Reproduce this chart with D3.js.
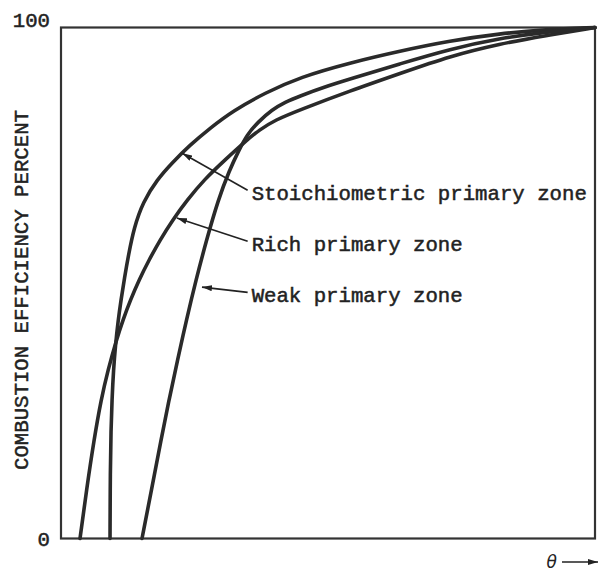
<!DOCTYPE html>
<html>
<head>
<meta charset="utf-8">
<script src="https://cdn.jsdelivr.net/npm/d3@7"></script>
<style>
    html, body { margin: 0; padding: 0; background: #fff; }
    svg { display: block; }
    .type { font-family: "Liberation Mono", "Courier New", monospace; fill: #222; stroke: #222; stroke-width: 0.5px; }
</style>
</head>
<body>
<svg id="chart" width="599" height="574"></svg>
<script>
(function () {
    'use strict';

    // theta (arbitrary units, 0-100) against combustion efficiency percent
    var stoichTheta = [9.18, 9.23, 9.36, 9.55, 9.83, 10.21, 10.67, 11.24, 11.89, 12.64, 13.67, 15.36, 17.98, 20.79, 24.16, 27.90, 32.21, 38.20, 44.76, 54.12, 63.48, 72.85, 82.21, 90.64, 100];
    var stoichEff = [0, 13.4, 21.2, 27.1, 33.0, 37.9, 42.4, 46.7, 51.0, 55.5, 60.8, 65.9, 70.2, 73.5, 77.0, 80.3, 83.7, 87.2, 90.3, 93.1, 95.4, 97.4, 98.8, 99.6, 100];

    var richTheta = [3.56, 4.78, 6.18, 7.49, 8.80, 10.39, 11.61, 13.01, 14.61, 16.48, 18.54, 20.88, 23.60, 26.78, 30.71, 34.83, 37.08, 40.07, 44.76, 54.12, 63.48, 72.85, 82.21, 90.64, 100];
    var richEff = [0, 9.5, 19.3, 27.1, 33.0, 38.9, 42.8, 46.7, 50.6, 54.5, 58.4, 62.3, 66.2, 70.2, 74.1, 78.0, 79.9, 81.9, 83.9, 87.6, 91.0, 94.4, 96.8, 98.4, 100];

    var weakTheta = [15.17, 16.95, 18.73, 20.22, 21.82, 23.50, 25.28, 27.25, 29.40, 31.55, 33.33, 34.83, 36.89, 39.51, 41.95, 44.76, 49.44, 54.12, 63.48, 72.85, 82.21, 90.64, 100];
    var weakEff = [0, 9.5, 19.3, 27.1, 34.9, 42.8, 50.6, 58.4, 66.2, 72.1, 76.0, 79.0, 81.5, 83.9, 85.4, 86.6, 88.4, 89.9, 92.9, 95.8, 97.9, 99.1, 100];

    var yTicks = [0, 100];
    var labels = ["Stoichiometric primary zone", "Rich primary zone", "Weak primary zone"];
    // arrow tip on the curve and the start of the label, both in data units
    var tips = [[22.7, 75.4], [21.7, 62.7], [26.4, 49.2]];
    var labelAt = [[35.7, 66.2], [35.7, 56.2], [35.7, 46.2]];

    var series = [
        { theta: stoichTheta, eff: stoichEff },
        { theta: richTheta, eff: richEff },
        { theta: weakTheta, eff: weakEff }
    ];

    var left = 61, right = 595, top = 27.5, bottom = 538.5;

    var x = d3.scaleLinear().domain([0, 100]).range([left, right]);
    var y = d3.scaleLinear().domain([0, 100]).range([bottom, top]);

    var svg = d3.select("#chart");

    var defs = svg.append("defs");
    defs.append("marker")
        .attr("id", "tip")
        .attr("viewBox", "0 0 10 6")
        .attr("refX", 10)
        .attr("refY", 3)
        .attr("markerWidth", 10)
        .attr("markerHeight", 6)
        .attr("markerUnits", "userSpaceOnUse")
        .attr("orient", "auto-start-reverse")
        .append("path")
        .attr("d", "M0,0 L10,3 L0,6 Z")
        .attr("fill", "#222");

    // frame
    svg.append("rect")
        .attr("x", x(0))
        .attr("y", y(100))
        .attr("width", x(100) - x(0))
        .attr("height", y(0) - y(100))
        .attr("fill", "none")
        .attr("stroke", "#333")
        .attr("stroke-width", 2.2);

    // left axis: only the 0 and 100 labels
    var yAxis = svg.append("g")
        .attr("transform", "translate(" + left + ",0)")
        .call(d3.axisLeft(y).tickValues(yTicks).tickSize(0).tickPadding(11).tickFormat(d3.format("d")));
    yAxis.select(".domain").remove();
    yAxis.selectAll("text")
        .attr("class", "type")
        .style("font-size", "20.7px")
        .attr("dy", function (d) { return d === 100 ? "-0.05em" : "0.32em"; });

    svg.append("text")
        .attr("class", "type")
        .attr("transform", "translate(28,290) rotate(-90)")
        .attr("text-anchor", "middle")
        .style("font-size", "20.7px")
        .text("COMBUSTION EFFICIENCY PERCENT");

    // theta arrow under the bottom right corner
    svg.append("text")
        .attr("x", 557)
        .attr("y", 568)
        .attr("text-anchor", "end")
        .style("font-family", "'DejaVu Sans', sans-serif")
        .style("font-style", "italic")
        .style("font-size", "17px")
        .attr("fill", "#222")
        .text("\u03b8");
    svg.append("line")
        .attr("x1", 562)
        .attr("x2", 598)
        .attr("y1", 562)
        .attr("y2", 562)
        .attr("stroke", "#222")
        .attr("stroke-width", 1.6)
        .attr("marker-end", "url(#tip)");

    var line = d3.line()
        .x(function (d) { return x(d[0]); })
        .y(function (d) { return y(d[1]); })
        .curve(d3.curveBasis);

    svg.selectAll("path.curve")
        .data(series)
        .enter()
        .append("path")
        .attr("class", "curve")
        .attr("d", function (s) {
            return line(s.theta.map(function (t, i) { return [t, s.eff[i]]; }));
        })
        .attr("fill", "none")
        .attr("stroke", "#2a2a2a")
        .attr("stroke-width", 3.6)
        .attr("stroke-linecap", "round");

    // leader arrows and labels
    svg.selectAll("line.leader")
        .data(labels)
        .enter()
        .append("line")
        .attr("class", "leader")
        .attr("x1", function (d, i) { return x(labelAt[i][0]) - 4; })
        .attr("y1", function (d, i) { return y(labelAt[i][1]) - 10; })
        .attr("x2", function (d, i) { return x(tips[i][0]); })
        .attr("y2", function (d, i) { return y(tips[i][1]); })
        .attr("stroke", "#222")
        .attr("stroke-width", 1.6)
        .attr("marker-end", "url(#tip)");

    svg.selectAll("text.label")
        .data(labels)
        .enter()
        .append("text")
        .attr("class", "label type")
        .attr("x", function (d, i) { return x(labelAt[i][0]); })
        .attr("y", function (d, i) { return y(labelAt[i][1]); })
        .style("font-size", "20.7px")
        .text(function (d) { return d; });
})();
</script>
</body>
</html>
